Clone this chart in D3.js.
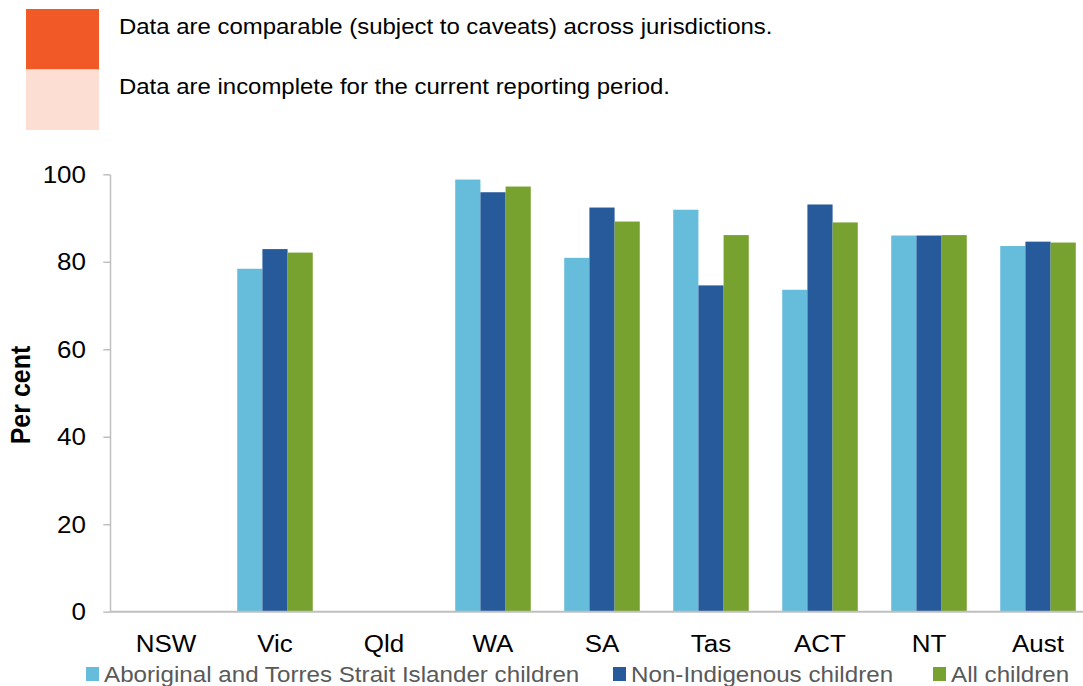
<!DOCTYPE html>
<html>
<head>
  <meta charset="utf-8">
  <script src="https://d3js.org/d3.v7.min.js"></script>
  <style>
    body { margin:0; background:#fff; }
    text { font-family: "Liberation Sans", Arial, sans-serif; }
  </style>
</head>
<body>
  <script>
    // data
    var jurisdictions = ["NSW", "Vic", "Qld", "WA", "SA", "Tas", "ACT", "NT", "Aust"];
    var seriesNames = ["Aboriginal and Torres Strait Islander children", "Non-Indigenous children", "All children"];
    var aboriginal    = [null, 78.4, null, 98.8, 80.9, 91.9, 73.6, 86.0, 83.6];
    var nonIndigenous = [null, 82.9, null, 95.9, 92.4, 74.6, 93.1, 86.0, 84.6];
    var allChildren   = [null, 82.1, null, 97.2, 89.2, 86.1, 89.0, 86.1, 84.4];
    var yTicks = [0, 20, 40, 60, 80, 100];
    var noteTexts = ["Data are comparable (subject to caveats) across jurisdictions.",
                     "Data are incomplete for the current reporting period."];

    var colours = ["#66bcdb", "#265a9a", "#78a22f"];
    var noteColours = ["#f15a27", "#fcded3"];
    var SX = 1.13; // the reference text is a bit wide, stretch it

    var svg = d3.select("body").append("svg")
      .attr("width", 1083)
      .attr("height", 686);

    // plot area
    var plotLeft = 110, plotRight = 1092.5, plotTop = 174.3, plotBottom = 611.7;

    var x0 = d3.scaleBand()
      .domain(jurisdictions)
      .range([111.5, plotRight])
      .paddingInner(0.307)
      .paddingOuter(0.1535);

    var x1 = d3.scaleBand()
      .domain(d3.range(seriesNames.length))
      .range([0, x0.bandwidth()]);

    var y = d3.scaleLinear().domain([0, 100]).range([plotBottom, plotTop]);

    var series = [aboriginal, nonIndigenous, allChildren];

    // bars
    var groups = svg.append("g").selectAll("g")
      .data(jurisdictions)
      .enter().append("g")
      .attr("transform", function(d) { return "translate(" + x0(d) + ",0)"; });

    groups.selectAll("rect")
      .data(function(d, i) {
        return series.map(function(s, k) { return {k: k, v: s[i]}; })
          .filter(function(e) { return e.v !== null; });
      })
      .enter().append("rect")
      .attr("x", function(e) { return x1(e.k); })
      .attr("width", x1.bandwidth())
      .attr("y", function(e) { return y(e.v); })
      .attr("height", function(e) { return plotBottom - y(e.v); })
      .attr("fill", function(e) { return colours[e.k]; });

    // y axis
    var yAxis = svg.append("g")
      .attr("transform", "translate(" + plotLeft + ",0)")
      .call(d3.axisLeft(y).tickValues(yTicks).tickSize(6.7).tickSizeOuter(0));
    yAxis.select(".domain").attr("stroke", "#bfbfbf").attr("stroke-width", 1.5);
    yAxis.selectAll(".tick line").attr("stroke", "#bfbfbf").attr("stroke-width", 1.5);
    yAxis.selectAll(".tick text")
      .attr("x", -24 / SX)
      .attr("dy", "0.35em")
      .attr("transform", "scale(" + SX + ",1)")
      .attr("font-size", "23px")
      .attr("font-family", "Liberation Sans, Arial, sans-serif")
      .attr("fill", "#000");

    // x axis line
    svg.append("line")
      .attr("x1", plotLeft).attr("x2", 1083)
      .attr("y1", plotBottom).attr("y2", plotBottom)
      .attr("stroke", "#bfbfbf").attr("stroke-width", 2);

    var xAxis = svg.append("g")
      .attr("transform", "translate(0," + plotBottom + ")")
      .call(d3.axisBottom(x0.copy().paddingInner(0).paddingOuter(0)).tickSize(0));
    xAxis.select(".domain").remove();
    xAxis.selectAll(".tick text")
      .attr("y", 40)
      .attr("dy", 0)
      .attr("transform", "scale(" + SX + ",1)")
      .attr("font-size", "23px")
      .attr("font-family", "Liberation Sans, Arial, sans-serif")
      .attr("fill", "#000");

    // y title
    svg.append("text")
      .text("Per cent")
      .attr("transform", "translate(30,395) scale(" + SX + ",1) rotate(-90)")
      .attr("text-anchor", "middle")
      .attr("font-size", "25px")
      .attr("font-weight", "bold")
      .attr("fill", "#000");

    // notes at the top
    var noteY = [9, 69.5];
    noteTexts.forEach(function(t, i) {
      svg.append("rect")
        .attr("x", 26).attr("y", noteY[i])
        .attr("width", 73).attr("height", 60.5)
        .attr("fill", noteColours[i]);
      svg.append("text")
        .text(t)
        .attr("transform", "translate(119," + (noteY[i] + 24.5) + ") scale(" + SX + ",1)")
        .attr("font-size", "21.2px")
        .attr("fill", "#000");
    });

    // legend at the bottom
    var legendX = [86, 613, 933];
    seriesNames.forEach(function(n, i) {
      svg.append("rect")
        .attr("x", legendX[i]).attr("y", 667)
        .attr("width", 13).attr("height", 14)
        .attr("fill", colours[i]);
      svg.append("text")
        .text(n)
        .attr("transform", "translate(" + (legendX[i] + 18) + ",682) scale(" + SX + ",1)")
        .attr("font-size", "21.4px")
        .attr("fill", "#595959");
    });
  </script>
</body>
</html>
